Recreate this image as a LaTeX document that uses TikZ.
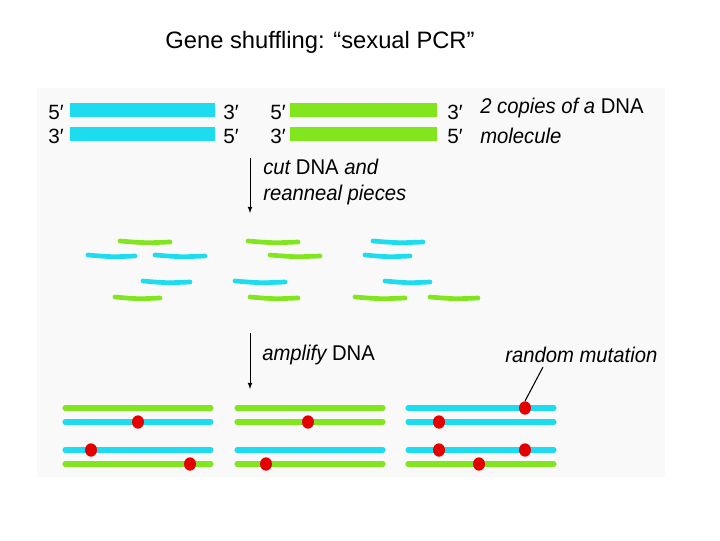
\documentclass[tikz,border=0pt]{standalone}
\usepackage{fontspec}
\setmainfont{Liberation Sans}
\usetikzlibrary{shapes.geometric}
\begin{document}
\begin{tikzpicture}[x=0.75pt,y=-0.75pt,
  frag/.style={line width=3.5pt,line cap=round},
  lab/.style={font=\fontsize{16}{18}\selectfont\itshape,anchor=west,inner sep=0pt,xscale=0.95,transform shape},
  prime/.style={font=\fontsize{15.5}{18}\selectfont,inner sep=0pt},
  dot/.style={ellipse,fill=red!90!black,minimum width=9pt,minimum height=10pt,inner sep=0pt}]
\useasboundingbox (0,0) rectangle (720,540);
\fill[white] (0,0) rectangle (720,540);
\definecolor{cyanb}{RGB}{30,220,240}
\definecolor{greenb}{RGB}{130,230,30}
\fill[gray!5] (37,88) rectangle (665,477);
\node[font=\fontsize{17.8}{20}\selectfont] (title) at (320,42) {Gene shuffling: “sexual PCR”};
% top bars
\fill[cyanb] (70,103) rectangle (215,117);
\fill[cyanb] (70,127) rectangle (215,141);
\fill[greenb] (290,103) rectangle (437,117);
\fill[greenb] (290,127) rectangle (437,141);
\node[prime] (p1) at (56,112) {5′};\node[prime] (p2) at (56,136) {3′};
\node[prime] (p3) at (231,112) {3′};\node[prime] (p4) at (231,136) {5′};
\node[prime] (p5) at (278,112) {5′};\node[prime] (p6) at (278,136) {3′};
\node[prime] (p7) at (455,112) {3′};\node[prime] (p8) at (455,136) {5′};
\node[lab] (l1) at (480,108) {2 copies of a \upshape DNA};
\node[lab] (l2) at (480,136) {molecule};
% arrow 1
\coordinate (a1s) at (250,158); \coordinate (a1e) at (250,213);
\draw[-latex,semithick] (a1s) -- (a1e);
\node[lab] (l3) at (263,167) {cut \upshape DNA \itshape and};
\node[lab] (l4) at (263,195) {reanneal pieces};
% fragments
\foreach \a/\b/\y/\c in {120/170/242/greenb,88/135/256/cyanb,155/205/256/cyanb,248/298/242/greenb,270/320/256/greenb,373/423/242/cyanb,365/410/256/cyanb,143/190/282/cyanb,115/160/298/greenb,235/285/282/cyanb,250/298/298/greenb,385/430/282/cyanb,355/405/298/greenb,430/478/298/greenb}
  \draw[frag,\c] (\a,\y-1) .. controls ({(\a+\b)/2},\y+1) .. (\b,\y);
% arrow 2
\coordinate (a2s) at (250,333); \coordinate (a2e) at (250,389);
\draw[-latex,semithick] (a2s) -- (a2e);
\node[lab] (l5) at (262,355) {amplify \upshape DNA};
\node[lab] (l6) at (505,355) {random mutation};
% bottom strands
\foreach \x/\y/\c in {65/408/greenb,65/422/cyanb,65/450/cyanb,65/464/greenb,
  237/408/greenb,237/422/greenb,237/450/cyanb,237/464/greenb,
  408/408/cyanb,408/422/cyanb,408/450/cyanb,408/464/greenb}
  \draw[line width=3.8pt,line cap=round,\c] (\x,\y) -- (\x+146,\y);
\foreach \n/\x/\y in {d1/138/422,d2/91/450,d3/190/464,d4/308/422,d5/266/464,d6/525/408,d7/439/422,d8/439/450,d9/525/450,d10/479/464}
  \node[dot] (\n) at (\x,\y) {};
\coordinate (mt) at (543,367);
\draw[thick] (mt) -- (d6.north);
\end{tikzpicture}
\end{document}
